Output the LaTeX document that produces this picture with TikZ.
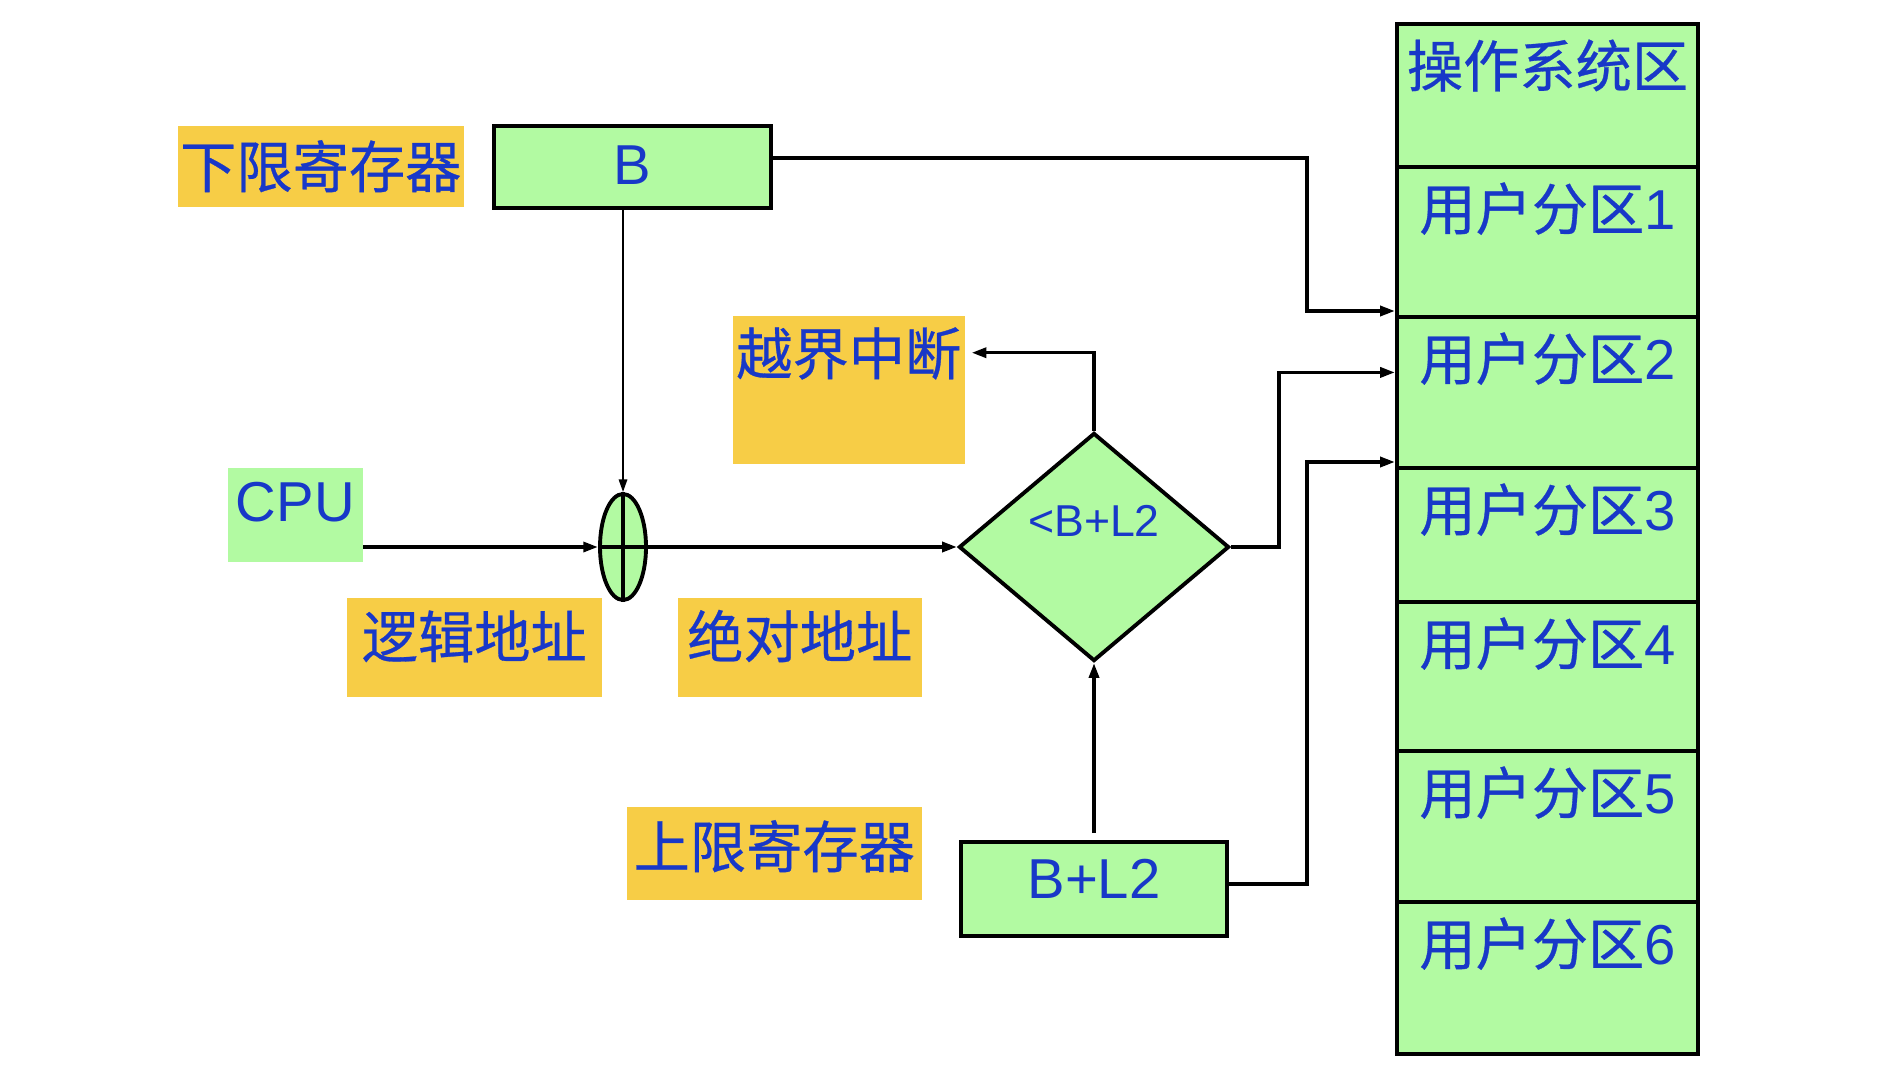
\documentclass[tikz,border=0pt]{standalone}
\usepackage{fontspec}
\usepackage{tikz}
\usetikzlibrary{shapes.geometric, arrows.meta, positioning, calc}
\setmainfont{Liberation Sans}
\newfontfamily\cjk[FakeBold=0.5]{Noto Sans CJK SC}
\definecolor{boxgreen}{RGB}{178,250,162}
\definecolor{tagyellow}{RGB}{247,205,70}
\definecolor{txtblue}{RGB}{24,56,200}
\newcommand{\bigtxt}{\fontsize{16}{19}\selectfont}

\begin{document}
\begin{tikzpicture}[
    x=0.01cm, y=-0.01cm,
    tag/.style={rectangle, fill=tagyellow, text=txtblue, inner sep=0pt, anchor=north west, font=\bigtxt\cjk},
    reg/.style={rectangle, draw, line width=1.1pt, fill=boxgreen, text=txtblue, inner sep=0pt, anchor=north west, font=\bigtxt},
    part/.style={rectangle, draw, line width=1.1pt, fill=boxgreen, text=txtblue, inner sep=0pt, minimum width=3.01cm, text height=0.63cm, anchor=north, font=\bigtxt},
    conn/.style={-{Triangle[length=4.2pt, width=2.8pt]}, line width=1pt}
]
\useasboundingbox (0,0) rectangle (1892,1076);

% Memory partitions
\foreach \nm/\top/\bot/\txt in {os/22/165/{\cjk 操作系统区}, p1/165/315/{\cjk 用户分区}1, p2/315/466/{\cjk 用户分区}2, p3/466/600/{\cjk 用户分区}3, p4/600/749/{\cjk 用户分区}4, p5/749/900/{\cjk 用户分区}5, p6/900/1052/{\cjk 用户分区}6}{
    \pgfmathsetmacro\dep{(\bot-\top)*0.01-0.63}
    \node[part, text depth=\dep cm] (\nm) at (1547.5,\top) {\txt};
}

% Labels
\node[tag, minimum width=2.86cm, text height=0.62cm, text depth=0.19cm] (lowlbl) at (177,125) {下限寄存器};
\node[tag, fill=boxgreen, font=\bigtxt, minimum width=1.35cm, text height=0.54cm, text depth=0.40cm] (cpu) at (227,467) {CPU};
\node[tag, minimum width=2.55cm, text height=0.60cm, text depth=0.39cm] (logaddr) at (346,597) {逻辑地址};
\node[tag, minimum width=2.44cm, text height=0.60cm, text depth=0.39cm] (absaddr) at (677,597) {绝对地址};
\node[tag, minimum width=2.32cm, text height=0.59cm, text depth=0.89cm] (halt) at (732,315) {越界中断};
\node[tag, minimum width=2.95cm, text height=0.61cm, text depth=0.32cm] (uplbl) at (626,806) {上限寄存器};

% Registers and logic
\node[reg, minimum width=2.77cm, text height=0.59cm, text depth=0.23cm] (lower) at (492,124) {B};
\node[reg, minimum width=2.66cm, text height=0.57cm, text depth=0.37cm] (upper) at (959,840) {B+L2};
\node[ellipse, draw, line width=1.1pt, fill=boxgreen, inner sep=0pt, minimum width=0.46cm, minimum height=1.06cm] (add) at (623,547) {};
\draw[line width=1.1pt] (add.north) -- (add.south) (add.west) -- (add.east);
\node[diamond, draw, line width=1.1pt, fill=boxgreen, text=txtblue, inner sep=0pt, minimum width=2.70cm, minimum height=2.28cm, text height=0.32cm, text depth=0.54cm, font=\fontsize{12.7}{15}\selectfont] (cmp) at (1094,547) {<B+L2};

% Arrows
\draw[line width=0.5pt, -{Triangle[length=3.6pt, width=2.4pt]}] (lower.south -| add.north) -- (add.north);
\draw[conn] (cpu.east |- add.west) -- (add.west);
\draw[conn] (add.east) -- (cmp.west);
\draw[conn] ($(upper.north -| cmp.south)+(0,-7)$) -- (cmp.south);
\draw[conn] (cmp.north) |- ([xshift=0.06cm, yshift=0.37cm]halt.east);
\draw[conn] ([yshift=0.09cm]lower.east) -| ([xshift=-0.88cm, yshift=0.04cm]p2.north west) -- ([yshift=0.04cm]p2.north west);
\draw[conn] (cmp.east) -- ++(48,0) |- ([yshift=0.2cm]p2.west);
\draw[conn] ([yshift=0.05cm]upper.east) -| ([xshift=-0.88cm, yshift=0.04cm]p3.north west) -- ([yshift=0.04cm]p3.north west);

\end{tikzpicture}
\end{document}
